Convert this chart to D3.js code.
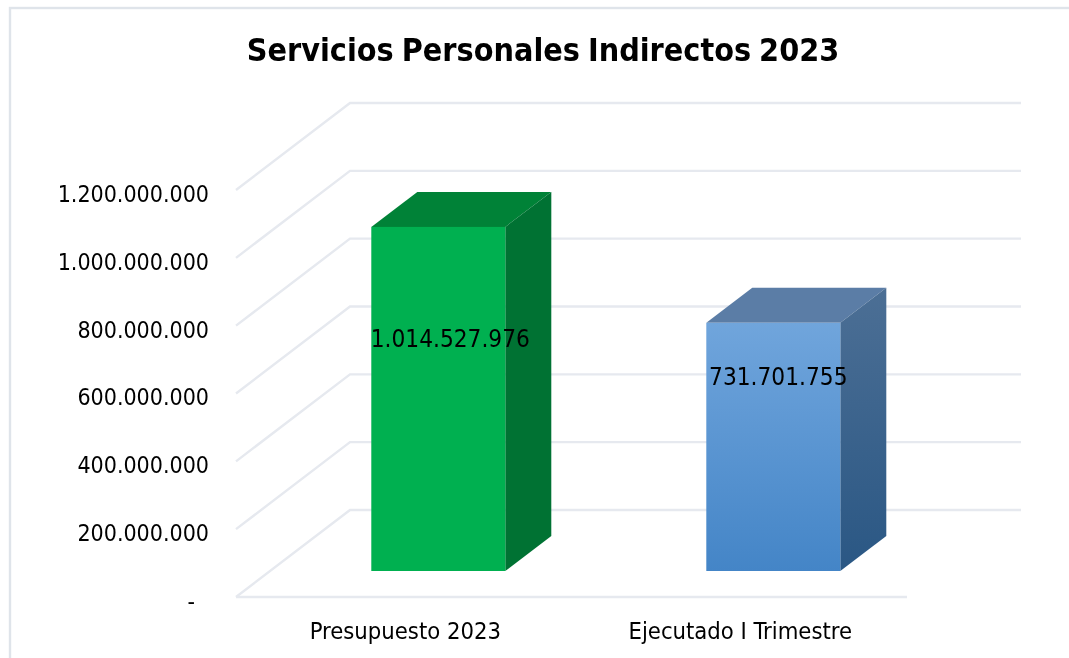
<!DOCTYPE html>
<html lang="en">
<head>
    <meta charset="UTF-8">
    <title>Servicios Personales Indirectos 2023</title>
    <script src="https://d3js.org/d3.v7.min.js"></script>
    <style>
        html, body { margin: 0; padding: 0; background: #fff; overflow: hidden; }
        svg { filter: blur(0.45px); }
        text { font-family: "DejaVu Sans Condensed", "DejaVu Sans", sans-serif; fill: #000; }
        .grid { stroke: #e6e9ef; stroke-width: 2.4; fill: none; }
        .axis .domain, .axis line { display: none; }
        .axis text { font-size: 23px; fill: #000; font-family: "DejaVu Sans Condensed", "DejaVu Sans", sans-serif; }
        .xaxis text { font-size: 23.6px; }
    </style>
</head>
<body>
    <svg width="1069" height="658"></svg>
    <script>
        const title = "Servicios Personales Indirectos 2023";
        const categories = ["Presupuesto 2023", "Ejecutado I Trimestre"];
        const values = [1014527976, 731701755];
        const valueLabels = ["1.014.527.976", "731.701.755"];
        const yTicks = [0, 200000000, 400000000, 600000000, 800000000, 1000000000, 1200000000];

        const svg = d3.select("svg");
        const defs = svg.append("defs");

        function vGrad(id, top, bottom) {
            const g = defs.append("linearGradient").attr("id", id)
                .attr("x1", 0).attr("y1", 0).attr("x2", 0).attr("y2", 1);
            g.append("stop").attr("offset", "0%").attr("stop-color", top);
            g.append("stop").attr("offset", "100%").attr("stop-color", bottom);
        }
        vGrad("blueFront", "#70a5dc", "#4485c7");
        vGrad("blueSide", "#4c6f95", "#2a5784");

        const faces = [
            { front: "#00b050", top: "#008237", side: "#007233" },
            { front: "url(#blueFront)", top: "#5b7da6", side: "url(#blueSide)" }
        ];

        // frame of the chart area, right and bottom edges run off the picture
        svg.append("rect").attr("x", 10).attr("y", 8).attr("width", 1100).attr("height", 700)
            .attr("fill", "#fff").attr("stroke", "#dfe4ea").attr("stroke-width", 2.4);

        // 3d box: depth of the walls, and how deep in the floor the bars stand
        const depthX = 114, depthY = 87;
        const barShift = 34, barLift = 26, barDepthX = 46, barDepthY = 35;

        const y = d3.scaleLinear().domain([0, 1200000000]).range([597, 190]);
        const x = d3.scaleBand().domain(categories)
            .range([236.8, 906.8]).paddingInner(0.6).paddingOuter(0.3);

        // gridlines: side wall + back wall
        svg.append("g").selectAll("path")
            .data(yTicks)
            .enter()
            .append("path")
            .attr("class", "grid")
            .attr("d", d => {
                const p = d3.path();
                p.moveTo(236, y(d));
                p.lineTo(236 + depthX, y(d) - depthY);
                p.lineTo(1021, y(d) - depthY);
                return p.toString();
            });
        svg.append("path").attr("class", "grid")
            .attr("d", () => {
                const p = d3.path();
                p.moveTo(236, y(0));
                p.lineTo(907, y(0));
                return p.toString();
            });

        // bars
        const bars = svg.append("g").selectAll("g")
            .data(categories.map((c, i) => ({ c, v: values[i], i })))
            .enter()
            .append("g");

        const base = y(0) - barLift;
        const barTop = d => base - (y(0) - y(d.v));
        const left = d => x(d.c) + barShift;

        bars.append("polygon").attr("fill", d => faces[d.i].top)
            .attr("points", d => {
                const l = left(d), r = l + x.bandwidth(), t = barTop(d);
                return [[l, t], [l + barDepthX, t - barDepthY], [r + barDepthX, t - barDepthY], [r, t]].join(" ");
            });
        bars.append("polygon").attr("fill", d => faces[d.i].side)
            .attr("points", d => {
                const r = left(d) + x.bandwidth(), t = barTop(d);
                return [[r, t], [r + barDepthX, t - barDepthY], [r + barDepthX, base - barDepthY], [r, base]].join(" ");
            });
        bars.append("rect").attr("fill", d => faces[d.i].front)
            .attr("x", left)
            .attr("y", barTop)
            .attr("width", x.bandwidth())
            .attr("height", d => base - barTop(d));

        // axes
        const yAxis = svg.append("g").attr("class", "axis")
            .attr("transform", "translate(217,4)")
            .call(d3.axisLeft(y).tickValues(yTicks).tickSize(0).tickPadding(8)
                .tickFormat(d => d === 0 ? "-" : d3.format(",")(d).replace(/,/g, ".")));
        yAxis.selectAll(".tick text").filter(d => d === 0).attr("dx", -14);

        svg.append("g").attr("class", "axis xaxis")
            .attr("transform", "translate(1,597)")
            .call(d3.axisBottom(x).tickSize(0).tickPadding(25));

        // data labels sit where they were dragged in the original
        bars.append("text")
            .attr("text-anchor", "middle")
            .attr("font-size", 24.2)
            .attr("x", d => left(d) + x.bandwidth() / 2 + (d.i === 0 ? 12 : 5))
            .attr("y", d => d.i === 0 ? 347 : 385)
            .text(d => valueLabels[d.i]);

        svg.append("text")
            .attr("x", 543).attr("y", 61)
            .attr("text-anchor", "middle")
            .attr("font-size", 32)
            .attr("font-weight", "bold")
            .attr("word-spacing", -2)
            .text(title);
    </script>
</body>
</html>
